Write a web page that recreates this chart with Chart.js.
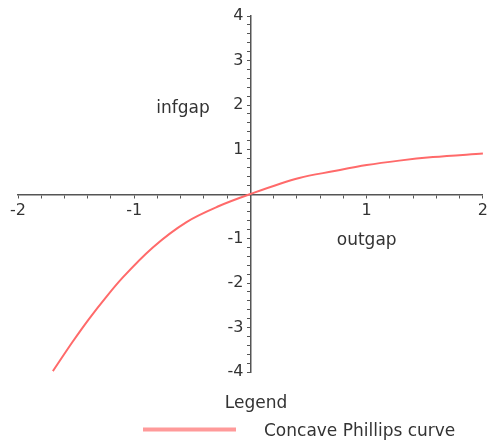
<!DOCTYPE html>
<html lang="en">
<head>
<meta charset="UTF-8">
<title>Concave Phillips curve</title>
<style>
  html, body { margin: 0; padding: 0; background: #fff; }
  #wrap { width: 488px; height: 446px; }
</style>
</head>
<body>
<div id="wrap"><canvas id="chart" width="488" height="446"></canvas></div>
<script src="https://cdn.jsdelivr.net/npm/chart.js"></script>
<script>
// values
const outgap = [-1.70, -1.53, -1.39, -1.24, -1.10, -0.84, -0.55, -0.27, 0, 0.42, 0.71, 1.00, 1.28, 1.57, 2.00];
const infgap = [-3.98, -3.32, -2.81, -2.31, -1.88, -1.20, -0.63, -0.27, 0, 0.36, 0.51, 0.65, 0.75, 0.83, 0.91];

const xLabels = [-2, -1, 1, 2];
const yLabels = [-4, -3, -2, -1, 1, 2, 3, 4];
const seriesName = 'Concave Phillips curve';
const legendTitle = 'Legend';
const xTitle = 'outgap';
const yTitle = 'infgap';

const curveColor = '#ff6a6a';
const axisColor = '#555';
const textColor = '#333';
const font = { family: '"DejaVu Sans", sans-serif', size: 16 };

function tickLabel(list) {
    return function (v) {
        const r = Math.round(v);
        if (Math.abs(v - r) < 1e-6 && list.includes(r)) return String(r);
        return '';
    };
}

// axis titles and the legend box, Maple style
const annotate = {
    id: 'annotate',
    afterDraw(chart) {
        const { ctx, scales: { x, y } } = chart;
        ctx.save();
        ctx.font = '17px "DejaVu Sans", sans-serif';
        ctx.fillStyle = textColor;
        ctx.textAlign = 'center';
        ctx.textBaseline = 'middle';
        ctx.fillText(yTitle, x.getPixelForValue(-0.58), y.getPixelForValue(1.93));
        ctx.fillText(xTitle, x.getPixelForValue(1.0), y.getPixelForValue(-1.04));

        ctx.fillText(legendTitle, 256, 404);
        ctx.strokeStyle = '#ff9a9a';
        ctx.lineWidth = 4;
        ctx.beginPath();
        ctx.moveTo(143, 429.5);
        ctx.lineTo(236, 429.5);
        ctx.stroke();
        ctx.textAlign = 'left';
        ctx.fillText(seriesName, 264, 432);
        ctx.restore();
    }
};

new Chart(document.getElementById('chart'), {
    type: 'scatter',
    data: {
        datasets: [{
            label: seriesName,
            data: outgap.map((v, i) => ({ x: v, y: infgap[i] })),
            showLine: true,
            borderColor: curveColor,
            borderWidth: 2,
            pointRadius: 0,
            cubicInterpolationMode: 'monotone',
            clip: false
        }]
    },
    options: {
        responsive: false,
        animation: false,
        layout: { autoPadding: false, padding: { left: 18, right: 5, top: 16, bottom: 74 } },
        plugins: { legend: { display: false }, tooltip: { enabled: false } },
        scales: {
            x: {
                type: 'linear',
                position: 'center',
                min: -2, max: 2,
                // padding 0 keeps the right edge free; lineHeight pushes labels down instead
                ticks: { stepSize: 0.2, autoSkip: false, maxRotation: 0, padding: 0,
                         callback: tickLabel(xLabels), font: { ...font, lineHeight: 1.75 }, color: textColor },
                grid: { drawOnChartArea: false, drawTicks: true, tickLength: 3, tickColor: axisColor },
                border: { color: axisColor, width: 1.5 }
            },
            y: {
                type: 'linear',
                position: 'center',
                min: -4, max: 4,
                ticks: { stepSize: 0.2, autoSkip: false, padding: 4,
                         callback: tickLabel(yLabels), font: font, color: textColor },
                grid: { drawOnChartArea: false, drawTicks: true, tickLength: 3, tickColor: axisColor },
                border: { color: axisColor, width: 1.5 }
            }
        }
    },
    plugins: [annotate]
});
</script>
</body>
</html>
